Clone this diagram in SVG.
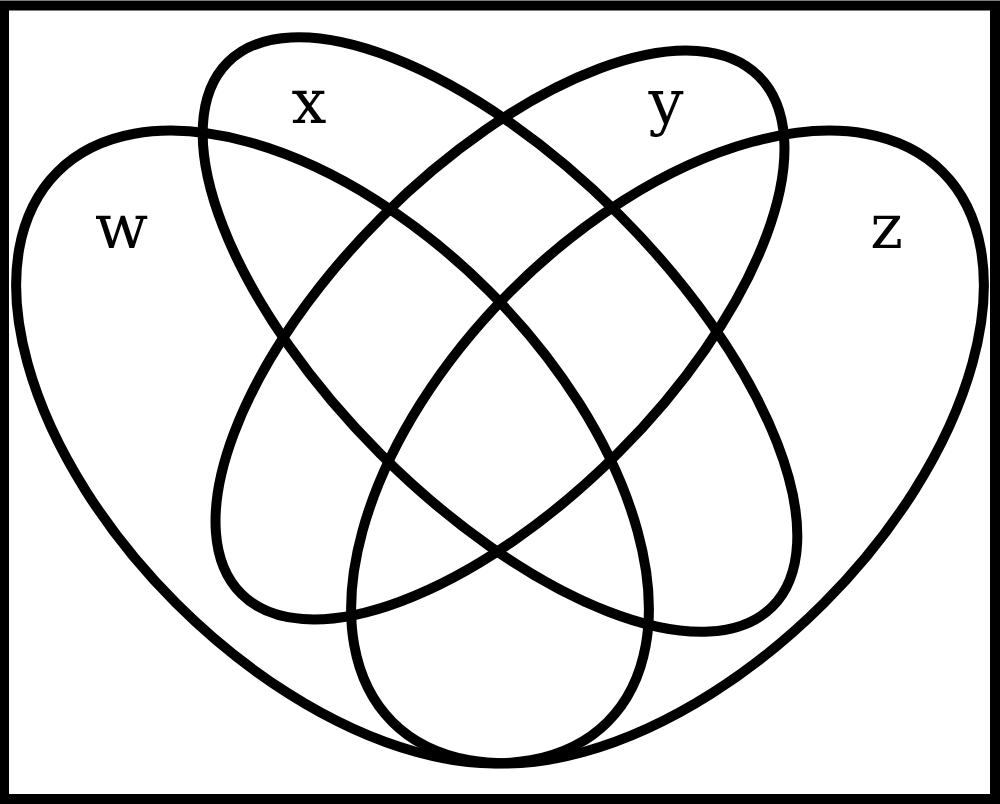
<svg xmlns="http://www.w3.org/2000/svg" width="1000" height="804" viewBox="0 0 1000 804">
  <style>
    .set { fill: none; stroke: #000; stroke-width: 10; }
    .lbl { font-family: "DejaVu Serif", "Liberation Serif", serif; font-size: 62px; fill: #000; text-anchor: middle; }
  </style>
  <rect x="0" y="0" width="1000" height="804" fill="#fff"/>
  <rect id="frame" x="4" y="5.5" width="991" height="793.5" fill="none" stroke="#000" stroke-width="10"/>
  <g id="set-w">
    <ellipse class="set" cx="332.5" cy="447" rx="389" ry="221" transform="rotate(45 332.5 447)"/>
    <text class="lbl" x="121.5" y="248">w</text>
  </g>
  <g id="set-x">
    <ellipse class="set" cx="500" cy="334.5" rx="385" ry="169" transform="rotate(45 500 334.5)"/>
    <text class="lbl" x="309" y="123">x</text>
  </g>
  <g id="set-y">
    <ellipse class="set" cx="500" cy="335" rx="366" ry="167" transform="rotate(-45 500 335)"/>
    <text class="lbl" x="666" y="123">y</text>
  </g>
  <g id="set-z">
    <ellipse class="set" cx="667.5" cy="447" rx="389" ry="221" transform="rotate(-45 667.5 447)"/>
    <text class="lbl" x="886.5" y="248">z</text>
  </g>
  <g id="connectors"></g>
</svg>
